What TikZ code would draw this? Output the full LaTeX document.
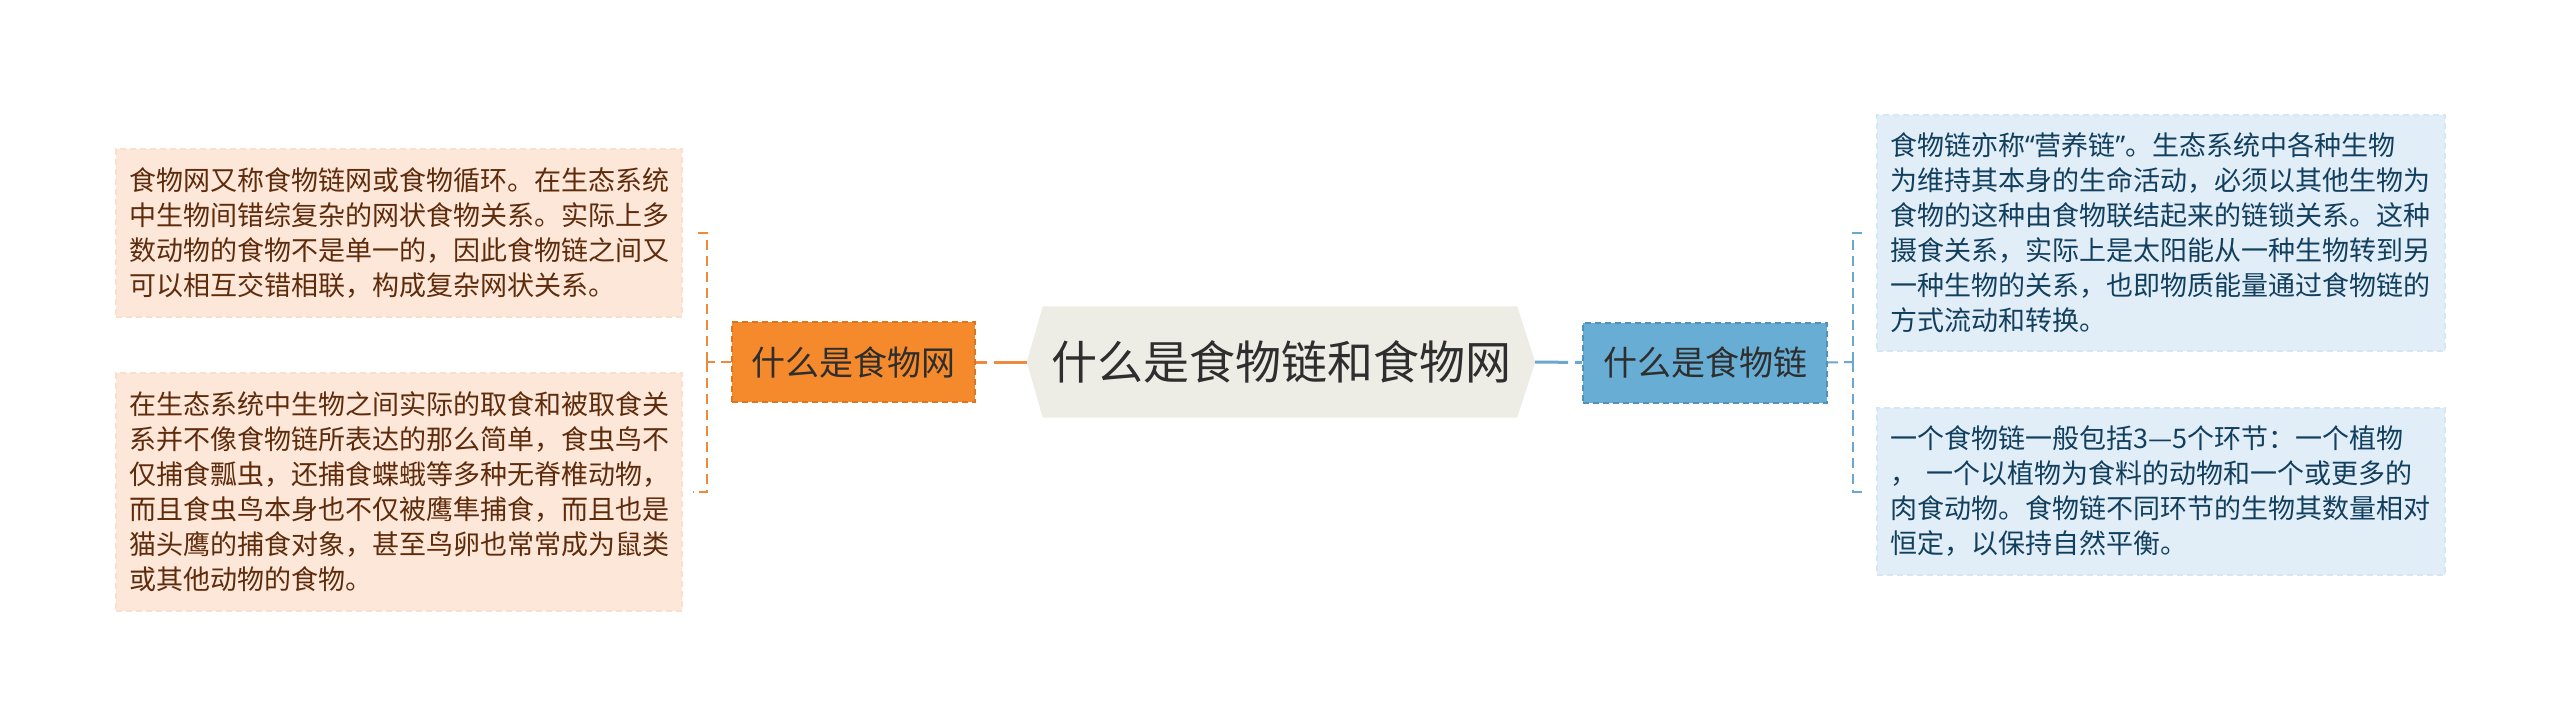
\documentclass[tikz,border=0pt]{standalone}
\usepackage{fontspec}
\setmainfont{Noto Sans CJK SC}
\newfontfamily\latinq{Noto Sans}
\usetikzlibrary{backgrounds}
\definecolor{peach}{HTML}{FDE7D8}
\definecolor{peachedge}{HTML}{FADFCC}
\definecolor{browntext}{HTML}{5E2C0C}
\definecolor{orangenode}{HTML}{F58A2C}
\definecolor{orangeedge}{HTML}{DE7620}
\definecolor{orangeline}{HTML}{EE8A3E}
\definecolor{centerfill}{HTML}{EDEDE5}
\definecolor{darktext}{HTML}{2E2E2E}
\definecolor{bluenode}{HTML}{68ADD3}
\definecolor{blueedge}{HTML}{4F93BD}
\definecolor{blueline}{HTML}{6AA8CE}
\definecolor{lightblue}{HTML}{E1EEF7}
\definecolor{lightblueedge}{HTML}{D5E7F2}
\definecolor{bluetext}{HTML}{123F5E}
\tikzset{
  leafbox/.style={rectangle, line width=1.5pt, dash pattern=on 6pt off 4pt,
    inner xsep=13pt, inner ysep=0pt, align=left,
    font=\fontsize{27}{35}\selectfont},
  leftbox/.style={leafbox, fill=peach, draw=peachedge, text=browntext, text width=540pt},
  rightbox/.style={leafbox, fill=lightblue, draw=lightblueedge, text=bluetext, text width=542pt},
  subnode/.style={rectangle, minimum height=80pt, inner sep=0pt, line width=2pt,
    dash pattern=on 6pt off 4pt, font=\fontsize{34}{40}\selectfont, text=darktext},
  orangesub/.style={subnode, fill=orangenode, draw=orangeedge, minimum width=243pt},
  bluesub/.style={subnode, fill=bluenode, draw=blueedge, minimum width=244pt},
  centralnode/.style={rectangle, inner sep=0pt, minimum width=508pt, minimum height=111pt,
    font=\fontsize{46}{52}\selectfont, text=darktext},
  branchO/.style={draw=orangeline, line width=3pt, dash pattern=on 33pt off 7pt},
  branchB/.style={draw=blueline, line width=3pt, dash pattern=on 33pt off 7pt},
  twigO/.style={draw=orangeline, line width=2pt, dash pattern=on 10pt off 6pt},
  twigB/.style={draw=blueline, line width=2pt, dash pattern=on 10pt off 6pt},
}
\begin{document}
\begin{tikzpicture}[x=1pt, y=-1pt]
\useasboundingbox (0,0) rectangle (2560,725);

\node[centralnode] (c) at (1281,362) {什么是食物链和食物网};
\node[orangesub] (o) at (853.5,362) {什么是食物网};
\node[bluesub] (b) at (1705,362.5) {什么是食物链};

\node[leftbox, minimum height=168pt] (lt) at (399,233) {食物网又称食物链网或食物循环。在生态系统\\中生物间错综复杂的网状食物关系。实际上多\\数动物的食物不是单一的，因此食物链之间又\\可以相互交错相联，构成复杂网状关系。};
\node[leftbox, minimum height=238pt] (lb) at (399,492) {在生态系统中生物之间实际的取食和被取食关\\系并不像食物链所表达的那么简单，食虫鸟不\\仅捕食瓢虫，还捕食蝶蛾等多种无脊椎动物，\\而且食虫鸟本身也不仅被鹰隼捕食，而且也是\\猫头鹰的捕食对象，甚至鸟卵也常常成为鼠类\\或其他动物的食物。};

\node[rightbox, minimum height=236pt] (rt) at (2161,233) {食物链亦称{\latinq “}营养链{\latinq ”}。生态系统中各种生物\\为维持其本身的生命活动，必须以其他生物为\\食物的这种由食物联结起来的链锁关系。这种\\摄食关系，实际上是太阳能从一种生物转到另\\一种生物的关系，也即物质能量通过食物链的\\方式流动和转换。};
\node[rightbox, minimum height=167pt] (rb) at (2161,491.5) {一个食物链一般包括3—5个环节：一个植物\\，\ 一个以植物为食料的动物和一个或更多的\\肉食动物。食物链不同环节的生物其数量相对\\恒定，以保持自然平衡。};

\coordinate (lj) at (707,362);
\coordinate (rj) at (1853,362);

\draw[branchO] (c.west) -- (o.east);
\draw[branchB] (c.east) -- (b.west);
\draw[twigO] (o.west) -- (lj);
\draw[twigO] (lj) |- ([xshift=10pt]lt.east);
\draw[twigO] (lj) |- ([xshift=10pt]lb.east);
\draw[twigB] (b.east) -- (rj);
\draw[twigB] (rj) |- ([xshift=-9pt]rt.west);
\draw[twigB] (rj) |- ([xshift=-9pt]rb.west);

\begin{scope}[on background layer]
\fill[white] (0,0) rectangle (2560,725);
\fill[centerfill] (c.west) -- ([xshift=16pt]c.north west) -- ([xshift=-18pt]c.north east)
  -- (c.east) -- ([xshift=-18pt]c.south east) -- ([xshift=16pt]c.south west) -- cycle;
\end{scope}
\end{tikzpicture}
\end{document}
